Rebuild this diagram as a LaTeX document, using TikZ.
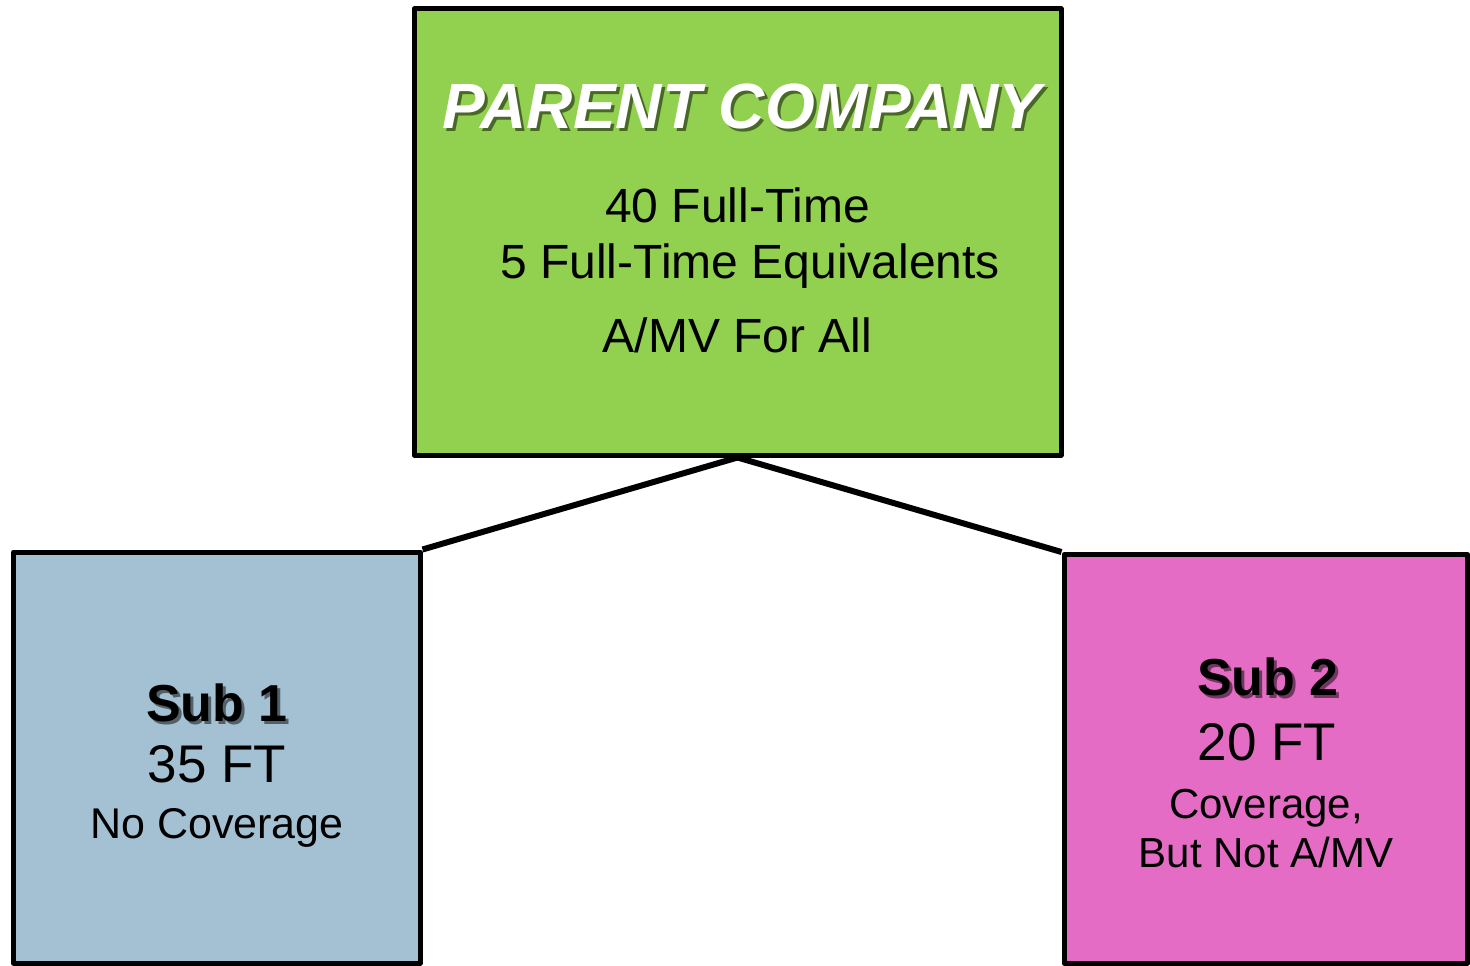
\documentclass[tikz,border=0pt]{standalone}
\usepackage{fontspec}
\setmainfont{Liberation Sans}
\definecolor{parentgreen}{RGB}{146,208,80}
\definecolor{subblue}{RGB}{164,192,211}
\definecolor{subpink}{RGB}{229,108,196}
\newcommand\shtext[2]{\makebox[0pt][l]{\hspace{3pt}\raisebox{-3pt}{\textcolor{#1}{#2}}}#2}
\tikzset{
  box/.style={draw=black, line width=5pt, rectangle, inner sep=0pt, line join=round},
  conn/.style={draw=black, line width=6pt},
  txt/.style={anchor=base, inner sep=0pt, text=black},
}
\begin{document}
\begin{tikzpicture}[x=1pt,y=-1pt]
\useasboundingbox (0,0) rectangle (1470,966);
% boxes
\node[box, fill=parentgreen, minimum width=647pt, minimum height=446pt] (parent) at (737.5,232) {};
\node[box, fill=subblue, minimum width=406.5pt, minimum height=411pt] (sub1) at (216.75,757.5) {};
\node[box, fill=subpink, minimum width=403.5pt, minimum height=408.5pt] (sub2) at (1265.75,758.75) {};
% connectors
\draw[conn] (parent.south) -- (sub1.north east);
\draw[conn] (parent.south) -- (sub2.north west);
% parent texts
\node[txt, text=white, font=\fontsize{64}{72}\selectfont\bfseries\itshape] (title) at (742,128) {\shtext{parentgreen!50!black}{PARENT COMPANY}};
\node[txt, font=\fontsize{48}{56}\selectfont] (p1) at (737.5,222) {40 Full-Time};
\node[txt, font=\fontsize{48}{56}\selectfont] (p2) at (750,278) {5 Full-Time Equivalents};
\node[txt, font=\fontsize{48}{56}\selectfont] (p3) at (737.5,352) {A/MV For All};
% sub 1 texts
\node[txt, font=\fontsize{52}{60}\selectfont\bfseries] (s1title) at (217,721) {\shtext{subblue!50!black}{Sub 1}};
\node[txt, font=\fontsize{53}{60}\selectfont] (s1a) at (217,782) {35 FT};
\node[txt, font=\fontsize{43}{52}\selectfont] (s1b) at (217,838) {No Coverage};
% sub 2 texts
\node[txt, font=\fontsize{52}{60}\selectfont\bfseries] (s2title) at (1268,695) {\shtext{subpink!50!black}{Sub 2}};
\node[txt, font=\fontsize{53}{60}\selectfont] (s2a) at (1267,760) {20 FT};
\node[txt, font=\fontsize{42}{50}\selectfont] (s2b) at (1266,818) {Coverage,};
\node[txt, font=\fontsize{42}{50}\selectfont] (s2c) at (1266,867) {But Not A/MV};
\end{tikzpicture}
\end{document}
